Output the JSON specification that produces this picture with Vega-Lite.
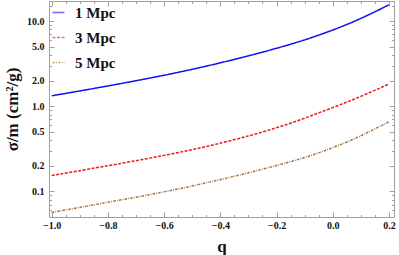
{
  "$schema": "https://vega.github.io/schema/vega-lite/v6.json",
  "width": 345,
  "height": 216,
  "autosize": {"type": "none"},
  "padding": {"left": 49, "top": 1, "right": 5, "bottom": 38},
  "background": "white",
  "config": {
    "view": {"stroke": "#a0a0a0", "strokeWidth": 1},
    "font": "Liberation Serif",
    "axis": {
      "domain": false,
      "grid": false,
      "tickColor": "#a0a0a0",
      "labelFont": "Liberation Serif",
      "labelFontWeight": "bold",
      "labelFontSize": 10,
      "labelColor": "#111",
      "titleFont": "Liberation Serif",
      "titleFontWeight": "bold",
      "titleColor": "#111"
    },
    "legend": {
      "labelFont": "Liberation Serif",
      "labelFontWeight": "bold",
      "labelFontSize": 15,
      "labelColor": "#111"
    }
  },
  "data": {
    "values": [
      {"q": -1.0, "v": 1.33, "s": "1 Mpc"},
      {"q": -0.83, "v": 1.66, "s": "1 Mpc"},
      {"q": -0.6, "v": 2.3, "s": "1 Mpc"},
      {"q": -0.4, "v": 3.21, "s": "1 Mpc"},
      {"q": -0.19, "v": 4.86, "s": "1 Mpc"},
      {"q": -0.06, "v": 6.61, "s": "1 Mpc"},
      {"q": 0.08, "v": 9.89, "s": "1 Mpc"},
      {"q": 0.2, "v": 15.6, "s": "1 Mpc"},
      {"q": -1.0, "v": 0.154, "s": "3 Mpc"},
      {"q": -0.83, "v": 0.192, "s": "3 Mpc"},
      {"q": -0.6, "v": 0.263, "s": "3 Mpc"},
      {"q": -0.4, "v": 0.363, "s": "3 Mpc"},
      {"q": -0.19, "v": 0.562, "s": "3 Mpc"},
      {"q": -0.06, "v": 0.813, "s": "3 Mpc"},
      {"q": 0.08, "v": 1.216, "s": "3 Mpc"},
      {"q": 0.2, "v": 1.83, "s": "3 Mpc"},
      {"q": -1.0, "v": 0.0565, "s": "5 Mpc"},
      {"q": -0.83, "v": 0.0716, "s": "5 Mpc"},
      {"q": -0.6, "v": 0.0977, "s": "5 Mpc"},
      {"q": -0.4, "v": 0.1365, "s": "5 Mpc"},
      {"q": -0.19, "v": 0.204, "s": "5 Mpc"},
      {"q": -0.06, "v": 0.272, "s": "5 Mpc"},
      {"q": 0.08, "v": 0.412, "s": "5 Mpc"},
      {"q": 0.2, "v": 0.659, "s": "5 Mpc"}
    ]
  },
  "resolve": {"axis": {"x": "independent", "y": "independent"}},
  "layer": [
    {
      "mark": {"type": "line", "interpolate": "basis", "strokeWidth": 1.5, "clip": true},
      "encoding": {
        "x": {
          "field": "q", "type": "quantitative",
          "scale": {"domain": [-1.0096, 0.218], "nice": false, "zero": false},
          "axis": {
            "orient": "bottom",
            "title": "q",
            "titleFontSize": 17,
            "titlePadding": 6,
            "values": [-1.0, -0.95, -0.9, -0.85, -0.8, -0.75, -0.7, -0.65, -0.6, -0.55, -0.5, -0.45, -0.4, -0.35, -0.3, -0.25, -0.2, -0.15, -0.1, -0.05, 0, 0.05, 0.1, 0.15, 0.2],
            "labelExpr": "abs(datum.value*5 - round(datum.value*5)) < 0.001 ? format(datum.value, '.1f') : ''",
            "tickSize": {"condition": {"test": "abs(datum.value*5 - round(datum.value*5)) < 0.001", "value": -5}, "value": -2.5},
            "labelPadding": 8,
            "labelFlush": false,
            "labelOverlap": false
          }
        },
        "y": {
          "field": "v", "type": "quantitative",
          "scale": {"type": "log", "domain": [0.05, 17.3], "nice": false},
          "axis": {
            "orient": "left",
            "title": "σ/m (cm²/g)",
            "titleFontSize": 17,
            "titlePadding": 5,
            "values": [0.06, 0.07, 0.08, 0.09, 0.1, 0.2, 0.3, 0.4, 0.5, 0.6, 0.7, 0.8, 0.9, 1, 2, 3, 4, 5, 6, 7, 8, 9, 10, 15],
            "labelExpr": "indexof([0.1,0.2,0.5,1,2,5,10], datum.value) >= 0 ? format(datum.value, '.1f') : ''",
            "tickSize": {"condition": {"test": "indexof([0.1,0.2,0.5,1,2,5,10], datum.value) >= 0", "value": -5}, "value": -2.5},
            "labelPadding": 10,
            "labelFlush": false,
            "labelOverlap": false
          }
        },
        "color": {
          "field": "s", "type": "nominal",
          "scale": {"domain": ["1 Mpc", "3 Mpc", "5 Mpc"], "range": ["#1010f0", "#f01818", "#a2703f"]},
          "legend": {
            "title": null,
            "orient": "none",
            "legendX": 2,
            "legendY": 4,
            "symbolType": "stroke",
            "symbolSize": 144,
            "symbolStrokeWidth": 1.5,
            "symbolOpacity": 0.6,
            "labelOffset": 9,
            "rowPadding": 9,
            "padding": 0
          }
        },
        "strokeDash": {
          "field": "s", "type": "nominal",
          "scale": {"domain": ["1 Mpc", "3 Mpc", "5 Mpc"], "range": [[1, 0], [3, 1.5], [2.5, 1.2, 0.8, 1.2]]},
          "legend": {
            "title": null,
            "orient": "none",
            "legendX": 2,
            "legendY": 4
          }
        }
      }
    },
    {
      "mark": {"type": "line", "opacity": 0},
      "encoding": {
        "x": {
          "field": "q", "type": "quantitative",
          "scale": {"domain": [-1.0096, 0.218], "nice": false, "zero": false},
          "axis": {
            "orient": "top",
            "title": null,
            "labels": false,
            "values": [-1.0, -0.95, -0.9, -0.85, -0.8, -0.75, -0.7, -0.65, -0.6, -0.55, -0.5, -0.45, -0.4, -0.35, -0.3, -0.25, -0.2, -0.15, -0.1, -0.05, 0, 0.05, 0.1, 0.15, 0.2],
            "tickSize": {"condition": {"test": "abs(datum.value*5 - round(datum.value*5)) < 0.001", "value": -5}, "value": -2.5}
          }
        },
        "y": {
          "field": "v", "type": "quantitative",
          "scale": {"type": "log", "domain": [0.05, 17.3], "nice": false},
          "axis": {
            "orient": "right",
            "title": null,
            "labels": false,
            "values": [0.06, 0.07, 0.08, 0.09, 0.1, 0.2, 0.3, 0.4, 0.5, 0.6, 0.7, 0.8, 0.9, 1, 2, 3, 4, 5, 6, 7, 8, 9, 10, 15],
            "tickSize": {"condition": {"test": "indexof([0.1,0.2,0.5,1,2,5,10], datum.value) >= 0", "value": -5}, "value": -2.5}
          }
        },
        "detail": {"field": "s", "type": "nominal"}
      }
    }
  ]
}
